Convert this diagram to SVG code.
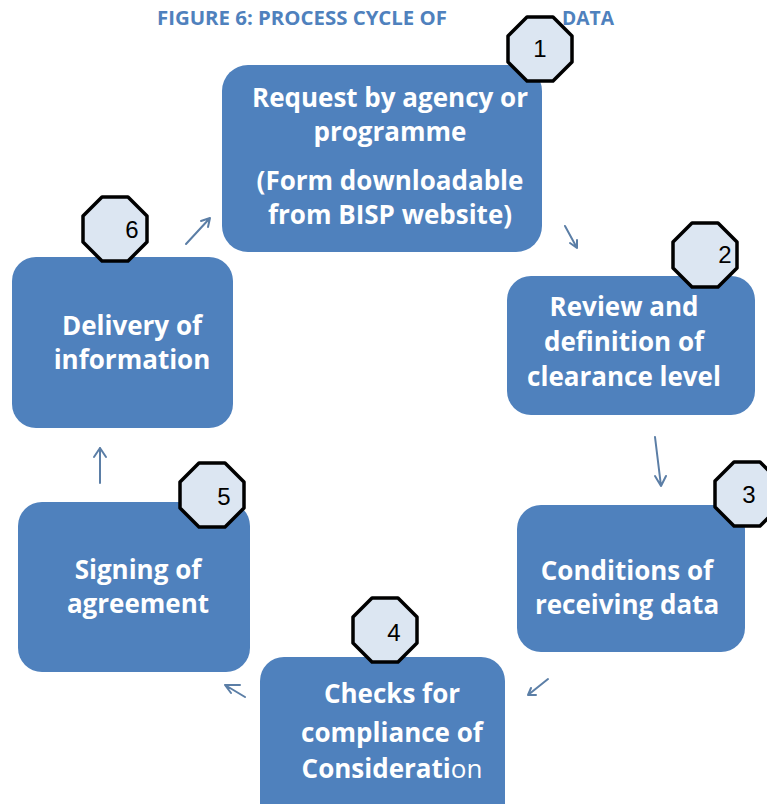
<svg xmlns="http://www.w3.org/2000/svg" width="767" height="804" viewBox="0 0 767 804">
<style>
.box{fill:#4f81bd;}
.oct{fill:#dce6f2;stroke:#000;stroke-width:3.5;stroke-linejoin:round;}
.t{font-family:"Open Sans","Liberation Sans",sans-serif;font-weight:bold;font-size:26px;fill:#fff;text-anchor:middle;}
.n{font-family:"Liberation Sans",Arial,sans-serif;font-size:24px;fill:#000;text-anchor:middle;}
.title{font-family:"Open Sans","Liberation Sans",sans-serif;font-weight:bold;font-size:19px;fill:#4f81bd;}
.arr{stroke:#5b7ea6;stroke-width:2;fill:none;stroke-linecap:round;}
</style>
<defs>
<polygon id="octa" points="-13,-32 13,-32 32,-13 32,13 13,32 -13,32 -32,13 -32,-13"/>
</defs>
<rect width="767" height="804" fill="#fff"/>
<text class="title" x="157" y="25" textLength="290" lengthAdjust="spacingAndGlyphs">FIGURE 6: PROCESS CYCLE OF</text>
<text class="title" x="562" y="25" textLength="52" lengthAdjust="spacingAndGlyphs">DATA</text>

<g id="node1">
<rect class="box" x="222" y="65" width="320" height="187" rx="26"/>
<text class="t" x="390" y="107">Request by agency or</text>
<text class="t" x="390" y="141">programme</text>
<text class="t" x="390" y="190">(Form downloadable</text>
<text class="t" x="390" y="224">from BISP website)</text>
</g>
<g id="node2">
<rect class="box" x="507" y="276" width="248" height="139" rx="24"/>
<text class="t" x="624" y="316">Review and</text>
<text class="t" x="624" y="351">definition of</text>
<text class="t" x="624" y="386">clearance level</text>
</g>
<g id="node3">
<rect class="box" x="517" y="505" width="228" height="147" rx="24"/>
<text class="t" x="627" y="580">Conditions of</text>
<text class="t" x="627" y="614">receiving data</text>
</g>
<g id="node4">
<rect class="box" x="260" y="657" width="245" height="170" rx="24"/>
<text class="t" x="392" y="703">Checks for</text>
<text class="t" x="392" y="742">compliance of</text>
<text class="t" x="392" y="778">Considerati<tspan font-weight="normal">on</tspan></text>
</g>
<g id="node5">
<rect class="box" x="18" y="502" width="232" height="170" rx="24"/>
<text class="t" x="138" y="579">Signing of</text>
<text class="t" x="138" y="613">agreement</text>
</g>
<g id="node6">
<rect class="box" x="12" y="257" width="221" height="171" rx="24"/>
<text class="t" x="132" y="335">Delivery of</text>
<text class="t" x="132" y="369">information</text>
</g>

<g id="badges">
<g id="badge1"><use href="#octa" class="oct" x="540" y="49"/><text class="n" x="540" y="57">1</text></g>
<g id="badge2"><use href="#octa" class="oct" x="705" y="255"/><text class="n" x="725" y="263">2</text></g>
<g id="badge3"><use href="#octa" class="oct" x="747" y="494"/><text class="n" x="749" y="503">3</text></g>
<g id="badge4"><use href="#octa" class="oct" x="385" y="630"/><text class="n" x="394" y="641">4</text></g>
<g id="badge5"><use href="#octa" class="oct" x="212" y="495"/><text class="n" x="224" y="505">5</text></g>
<g id="badge6"><use href="#octa" class="oct" x="115" y="229"/><text class="n" x="132" y="238">6</text></g>
</g>

<g id="connectors">
<path class="arr" d="M565 226 L577 248 M577 248 L570 243 M577 248 L577 240"/>
<path class="arr" d="M655 437 L661 486 M661 486 L655 476 M661 486 L666 476"/>
<path class="arr" d="M548 679 L528 695 M528 695 L536 695 M528 695 L531 688"/>
<path class="arr" d="M245 697 L225 685 M225 685 L240 685 M225 685 L231 693"/>
<path class="arr" d="M100 483 L100 448 M100 448 L94 457 M100 448 L106 457"/>
<path class="arr" d="M186 244 L210 218 M210 218 L201 221 M210 218 L208 227"/>
</g>
</svg>
